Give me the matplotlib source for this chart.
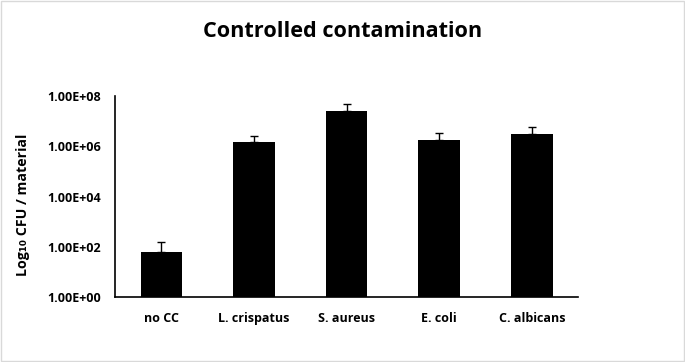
import matplotlib
matplotlib.use("Agg")
import matplotlib.pyplot as plt
from matplotlib.patches import Rectangle
from matplotlib.ticker import FixedLocator, FixedFormatter

categories = ["no CC", "L. crispatus", "S. aureus", "E. coli", "C. albicans"]
means = [63, 1.45e6, 2.65e7, 1.8e6, 3.0e6]
err_upper = [88, 1.1e6, 2.1e7, 1.5e6, 2.8e6]
ytick_vals = [1e0, 1e2, 1e4, 1e6, 1e8]
ytick_labels = ["1.00E+00", "1.00E+02", "1.00E+04", "1.00E+06", "1.00E+08"]

plt.rcParams['font.family'] = ['Open Sans', 'DejaVu Sans']

fig = plt.figure(figsize=(6.85, 3.62), dpi=100)
ax = fig.add_axes([0.168, 0.1796, 0.676, 0.555])

x = list(range(len(categories)))
ax.bar(x, means, width=0.45, color="black", bottom=0,
       yerr=[[0] * len(means), err_upper], capsize=3,
       error_kw=dict(ecolor="black", elinewidth=1, capthick=1))
ax.set_yscale("log")
ax.set_ylim(1, 1e8)
ax.set_xlim(-0.5, len(categories) - 0.5)
ax.yaxis.set_major_locator(FixedLocator(ytick_vals))
ax.yaxis.set_major_formatter(FixedFormatter(ytick_labels))
ax.yaxis.set_minor_locator(FixedLocator([]))
ax.set_xticks(x)
ax.set_xticklabels(categories, fontsize=9, fontweight="bold")
for lab in ax.get_yticklabels():
    lab.set_fontsize(9)
    lab.set_fontweight("bold")
ax.tick_params(axis="both", length=0)
ax.tick_params(axis="y", pad=10)
ax.tick_params(axis="x", pad=11)
for s in ["top", "right"]:
    ax.spines[s].set_visible(False)
for s in ["left", "bottom"]:
    ax.spines[s].set_color("black")
    ax.spines[s].set_linewidth(1.2)

ax.set_ylabel("Log₁₀ CFU / material", fontsize=10.2, fontweight="bold")
ax.yaxis.set_label_coords(-0.184, 0.458)
fig.text(0.5, 0.912, "Controlled contamination", ha="center", va="center",
         fontsize=15.6, fontweight="bold")

fig.patches.append(Rectangle((0.001, 0.002), 0.997, 0.995, transform=fig.transFigure,
                             fill=False, edgecolor="#d9d9d9", linewidth=1))

fig.savefig("out.png", dpi=100)
